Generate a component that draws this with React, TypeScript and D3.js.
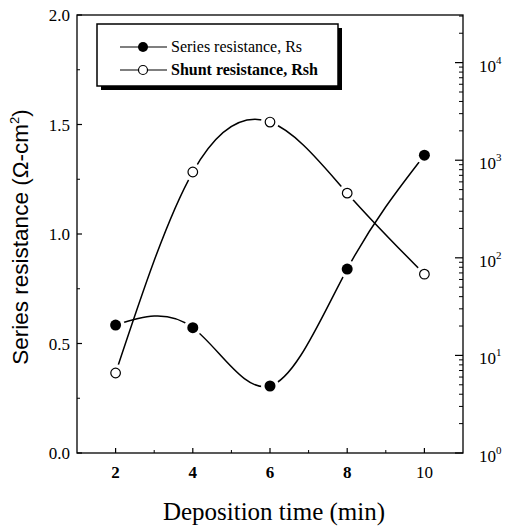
import React from "react";
import * as d3 from "d3";

const depositionTime = [2, 4, 6, 8, 10];
const seriesRs = [0.584, 0.572, 0.306, 0.84, 1.36];
const shuntRsh = [6.6, 757, 2460, 460, 68];
const leftTicks = [0, 0.5, 1.0, 1.5, 2.0];
const leftMinor = [0.25, 0.75, 1.25, 1.75];
const bottomTicks = [2, 4, 6, 8, 10];
const bottomMinor = [3, 5, 7, 9];
const rightDecades = [0, 1, 2, 3, 4];

const W = 514, H = 532;
const L = 77, R = 463, T = 15, B = 453;
const serif = "'Liberation Serif', 'Times New Roman', serif";
const sans = "'Liberation Sans', Arial, sans-serif";

export default function App() {
  const x = d3.scaleLinear().domain([1, 11]).range([L, R]);
  const yL = d3.scaleLinear().domain([0, 2]).range([B, T]);
  const yR = d3.scaleLog().domain([1, Math.pow(10, 4.488)]).range([B, T]);

  const rsPts: [number, number][] = depositionTime.map((t, i) => [x(t), yL(seriesRs[i])]);
  const shPts: [number, number][] = depositionTime.map((t, i) => [x(t), yR(shuntRsh[i])]);
  const line = d3.line().curve(d3.curveNatural);

  const rightMinor: number[] = [];
  for (let d = 0; d < 5; d++) for (let k = 2; k <= 9; k++) {
    const v = k * Math.pow(10, d);
    if (v <= yR.domain()[1]) rightMinor.push(v);
  }

  return (
    <svg width={W} height={H} style={{ position: "absolute", left: 0, top: 0, background: "#fff" }}>
      {/* frame */}
      <rect x={L} y={T} width={R - L} height={B - T} fill="none" stroke="#000" strokeWidth={1.3} />
      {/* left ticks */}
      {leftTicks.map((v) => (
        <g key={"l" + v}>
          <line x1={L} x2={L + 5} y1={yL(v)} y2={yL(v)} stroke="#000" strokeWidth={1.2} />
          <text x={70} y={yL(v) + 6} textAnchor="end" fontFamily={serif} fontSize={17}>{v.toFixed(1)}</text>
        </g>
      ))}
      {leftMinor.map((v) => (
        <line key={"lm" + v} x1={L} x2={L + 3} y1={yL(v)} y2={yL(v)} stroke="#000" strokeWidth={1} />
      ))}
      {/* bottom ticks */}
      {bottomTicks.map((v) => (
        <g key={"b" + v}>
          <line x1={x(v)} x2={x(v)} y1={B} y2={B - 5} stroke="#000" strokeWidth={1.2} />
          <text x={x(v)} y={478} textAnchor="middle" fontFamily={serif} fontSize={17} fontWeight={v === 10 ? 400 : 700}>{v}</text>
        </g>
      ))}
      {bottomMinor.map((v) => (
        <line key={"bm" + v} x1={x(v)} x2={x(v)} y1={B} y2={B - 3} stroke="#000" strokeWidth={1} />
      ))}
      {/* right ticks */}
      {rightDecades.map((d) => (
        <g key={"r" + d}>
          <line x1={R} x2={R - 8} y1={yR(Math.pow(10, d))} y2={yR(Math.pow(10, d))} stroke="#000" strokeWidth={1.2} />
          <text x={479} y={yR(Math.pow(10, d)) + 9} fontFamily={serif} fontSize={17}>
            10<tspan dy={-8} fontSize={11}>{d}</tspan>
          </text>
        </g>
      ))}
      {rightMinor.map((v) => (
        <line key={"rm" + v} x1={R} x2={R - 4} y1={yR(v)} y2={yR(v)} stroke="#000" strokeWidth={1} />
      ))}
      {/* curves */}
      <path d={line(rsPts) || ""} fill="none" stroke="#000" strokeWidth={1.5} />
      <path d={line(shPts) || ""} fill="none" stroke="#000" strokeWidth={1.5} />
      {/* halos */}
      {rsPts.concat(shPts).map((p, i) => (
        <circle key={"h" + i} cx={p[0]} cy={p[1]} r={9} fill="#fff" />
      ))}
      {rsPts.map((p, i) => (
        <circle key={"rs" + i} cx={p[0]} cy={p[1]} r={5.5} fill="#000" />
      ))}
      {shPts.map((p, i) => (
        <circle key={"sh" + i} cx={p[0]} cy={p[1]} r={4.8} fill="#fff" stroke="#000" strokeWidth={1.2} />
      ))}
      {/* legend */}
      <rect x={101} y={28} width={241} height={62} fill="#000" />
      <rect x={97} y={24} width={241} height={62} fill="#fff" stroke="#000" strokeWidth={1.5} />
      <line x1={120} x2={167} y1={47} y2={47} stroke="#000" strokeWidth={1.2} />
      <circle cx={143} cy={47} r={5} fill="#000" />
      <text x={171} y={52} fontFamily={serif} fontSize={16}>Series resistance, Rs</text>
      <line x1={120} x2={167} y1={70} y2={70} stroke="#000" strokeWidth={1.2} />
      <circle cx={143} cy={70} r={4.5} fill="#fff" stroke="#000" strokeWidth={1.2} />
      <text x={171} y={75} fontFamily={serif} fontSize={16} fontWeight={700}>Shunt resistance, Rsh</text>
      {/* axis titles */}
      <text transform={`translate(28, 237) rotate(-90)`} textAnchor="middle" fontFamily={sans} fontSize={22.5}>
        Series resistance (Ω-cm<tspan dy={-9} fontSize={13}>2</tspan><tspan dy={9}>)</tspan>
      </text>
      <text x={274} y={520} textAnchor="middle" fontFamily={serif} fontSize={25}>Deposition time (min)</text>
    </svg>
  );
}
